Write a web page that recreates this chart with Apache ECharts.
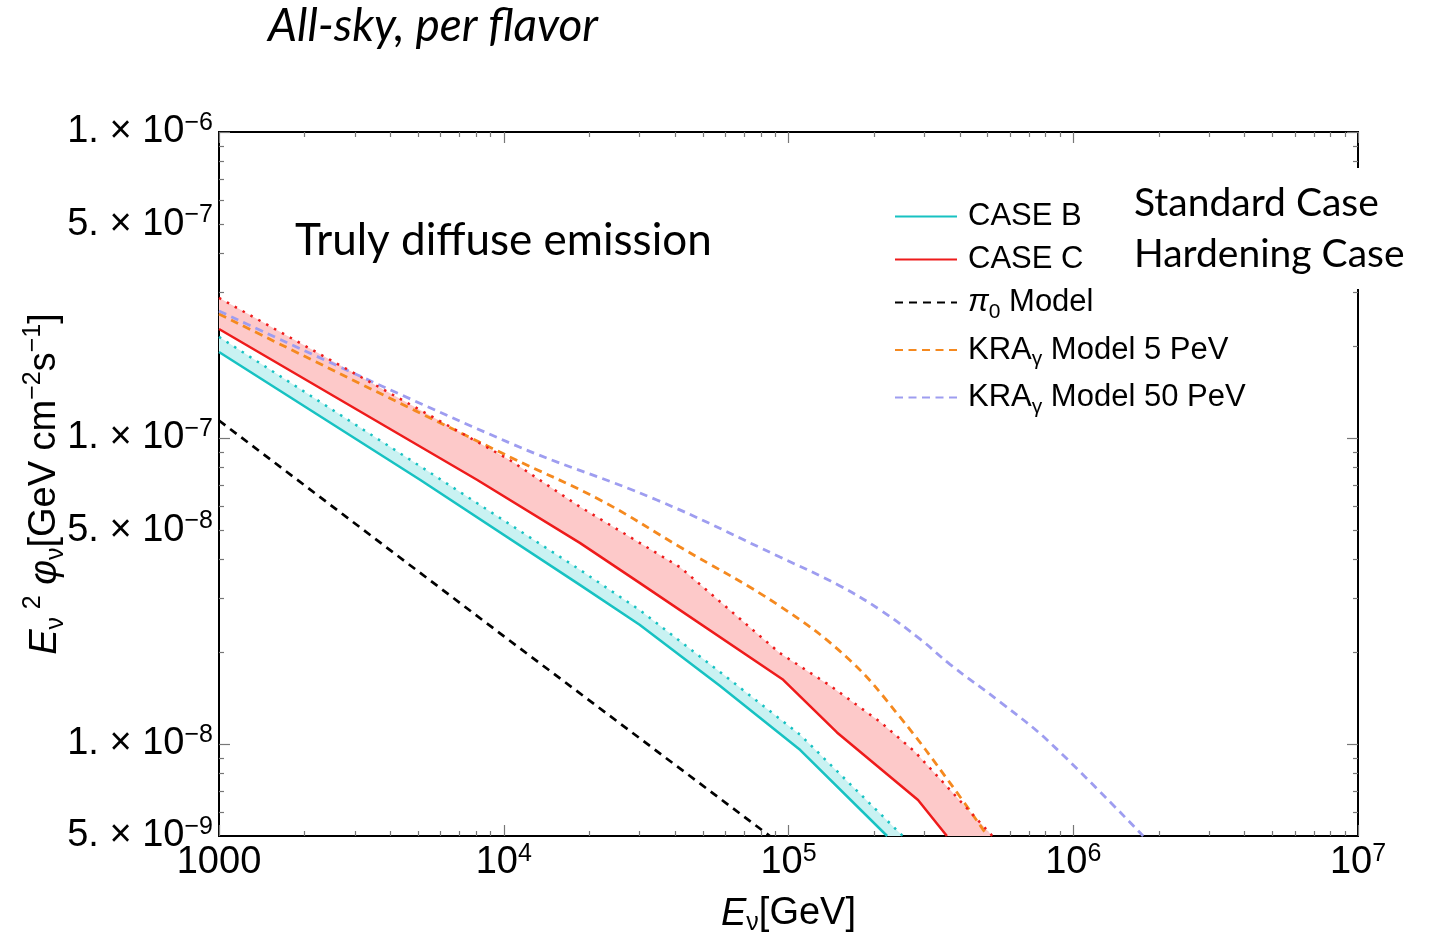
<!DOCTYPE html>
<html>
<head>
<meta charset="utf-8">
<script src="https://cdn.jsdelivr.net/npm/echarts@6/dist/echarts.min.js"></script>
<style>
    html, body { margin: 0; padding: 0; background: #fff; }
    #chart { width: 1433px; height: 935px; }
</style>
</head>
<body>
<div id="chart"></div>
<script>
    // E [GeV] , E^2 phi [GeV cm^-2 s^-1]
    const caseBLower = [[1000, 1.91e-7], [5080, 7.3e-8], [18500, 3.31e-8], [30000, 2.45e-8], [57400, 1.55e-8], [110000, 9.55e-9], [222000, 5.0e-9]];
    const caseBUpper = [[1000, 2.14e-7], [5080, 8.09e-8], [18500, 3.71e-8], [30000, 2.74e-8], [57400, 1.72e-8], [110000, 1.07e-8], [252000, 5.0e-9]];
    const caseCLower = [[1000, 2.27e-7], [8050, 7.3e-8], [18500, 4.54e-8], [30000, 3.36e-8], [95800, 1.62e-8], [148000, 1.09e-8], [285000, 6.56e-9], [360000, 5.0e-9]];
    const caseCUpper = [[1000, 2.87e-7], [10500, 8.47e-8], [18500, 5.96e-8], [41600, 3.78e-8], [68000, 2.55e-8], [93300, 1.98e-8], [140000, 1.55e-8], [210000, 1.18e-8], [278000, 9.42e-9], [369000, 7.08e-9], [520000, 5.0e-9]];
    const pi0Model = [[1000, 1.14e-7], [10000, 2.25e-8], [86000, 5.0e-9]];
    const kra5PeV = [[1000, 2.54e-7], [10500, 8.67e-8], [21800, 6.27e-8], [41600, 4.40e-8], [93300, 2.82e-8], [164000, 1.88e-8], [247000, 1.22e-8], [369000, 7.46e-9], [500000, 5.0e-9]];
    const kra50PeV = [[1000, 2.60e-7], [10500, 9.63e-8], [34500, 6.27e-8], [93300, 4.08e-8], [150000, 3.30e-8], [210000, 2.74e-8], [290000, 2.20e-8], [369000, 1.82e-8], [560000, 1.36e-8], [828000, 1.01e-8], [1760000, 5.0e-9]];

    // ticks
    const xMajorTicks = [1e3, 1e4, 1e5, 1e6, 1e7];
    const xMinorTicks = [2e3, 3e3, 4e3, 5e3, 6e3, 7e3, 8e3, 9e3, 2e4, 3e4, 4e4, 5e4, 6e4, 7e4, 8e4, 9e4,
        2e5, 3e5, 4e5, 5e5, 6e5, 7e5, 8e5, 9e5, 2e6, 3e6, 4e6, 5e6, 6e6, 7e6, 8e6, 9e6];
    const yLabelTicks = [5e-9, 1e-8, 5e-8, 1e-7, 5e-7, 1e-6];
    const yMajorTicks = [1e-8, 1e-7, 1e-6];
    const yMinorTicks = [6e-9, 7e-9, 8e-9, 9e-9, 2e-8, 3e-8, 4e-8, 5e-8, 6e-8, 7e-8, 8e-8, 9e-8,
        2e-7, 3e-7, 4e-7, 5e-7, 6e-7, 7e-7, 8e-7, 9e-7];

    const lg = v => Math.log10(v);
    const toLog = arr => arr.map(p => [lg(p[0]), lg(p[1])]);

    const X_MIN = lg(1e3), X_MAX = lg(1e7);
    const Y_MIN = lg(5e-9), Y_MAX = lg(1e-6);

    const ARIAL = 'Liberation Sans, Arial, sans-serif';
    const CALIBRI = 'Lato, Open Sans, sans-serif';
    const TICK_COLOR = '#777';

    const cyan = '#17c2c2', red = '#ee1b1b', orange = '#f5891f', purple = '#9e9df0';

    const labelRich = {
        b: { fontFamily: ARIAL, fontSize: 38, color: '#000', lineHeight: 42 },
        s: { fontFamily: ARIAL, fontSize: 25, color: '#000', lineHeight: 22, verticalAlign: 'top' }
    };

    function yLabel(v) {
        const e = Math.floor(v + 1e-9);
        const m = Math.round(Math.pow(10, v - e));
        return '{b|' + m + '. × 10}{s|−' + (-e) + '}';
    }
    function xLabel(v) {
        const e = Math.round(v);
        if (e === 3) return '{b|1000}';
        return '{b|10}{s|' + e + '}';
    }

    function xAxisOf(position, ticks, len, showLabel, extra) {
        return Object.assign({
            type: 'value', position: position, min: X_MIN, max: X_MAX,
            axisLine: { show: true, onZero: false, lineStyle: { color: '#000', width: 2 } },
            axisTick: { show: true, inside: true, length: len, customValues: ticks.map(lg), lineStyle: { color: TICK_COLOR, width: 1.2 } },
            axisLabel: showLabel ? { show: true, customValues: xMajorTicks.map(lg), formatter: xLabel, margin: 6, rich: labelRich } : { show: false },
            splitLine: { show: false }
        }, extra || {});
    }
    function yAxisOf(position, ticks, len, showLabel, extra) {
        return Object.assign({
            type: 'value', position: position, min: Y_MIN, max: Y_MAX,
            axisLine: { show: true, onZero: false, lineStyle: { color: '#000', width: 2 } },
            axisTick: { show: true, inside: true, length: len, customValues: ticks.map(lg), lineStyle: { color: TICK_COLOR, width: 1.2 } },
            axisLabel: showLabel ? { show: true, customValues: yLabelTicks.map(lg), formatter: yLabel, margin: 6, rich: labelRich } : { show: false },
            splitLine: { show: false }
        }, extra || {});
    }

    function lineSeries(name, data, color, dash, z, smooth, width) {
        return {
            name: name, type: 'line', data: toLog(data), symbol: 'none', clip: true, z: z || 3,
            smooth: smooth || false,
            lineStyle: { color: color, width: width || 2.5, type: dash || 'solid', cap: 'butt' },
            itemStyle: { color: color },
            emphasis: { disabled: true }
        };
    }

    function bandSeries(lower, upper, fill) {
        const poly = toLog(lower.concat(upper.slice().reverse()));
        return {
            type: 'custom', coordinateSystem: 'cartesian2d', clip: true, silent: true, z: 1,
            data: [[4, -7]],
            renderItem: (params, api) => ({
                type: 'polygon',
                shape: { points: poly.map(p => api.coord(p)) },
                style: { fill: fill }
            })
        };
    }

    const chart = echarts.init(document.getElementById('chart'));

    chart.setOption({
        animation: false,
        backgroundColor: '#fff',
        grid: { left: 219, right: 75, top: 132, bottom: 99, containLabel: false, outerBoundsMode: 'none' },
        xAxis: [
            xAxisOf('bottom', xMajorTicks, 11, true, {
                name: '{i|E}{sub|ν}{n|[GeV]}', nameLocation: 'middle', nameGap: 56,
                nameTextStyle: {
                    rich: {
                        i: { fontFamily: ARIAL, fontSize: 38, fontStyle: 'italic', color: '#000', lineHeight: 44 },
                        sub: { fontFamily: ARIAL, fontSize: 25, color: '#000', lineHeight: 22, verticalAlign: 'bottom' },
                        n: { fontFamily: ARIAL, fontSize: 38, color: '#000', lineHeight: 44 }
                    }
                }
            }),
            xAxisOf('bottom', xMinorTicks, 5, false),
            xAxisOf('top', xMajorTicks, 11, false),
            xAxisOf('top', xMinorTicks, 5, false)
        ],
        yAxis: [
            yAxisOf('left', yMajorTicks, 11, true, {
                name: '{i|E}{sub|ν}{n|\u2009}{sup|2}{n| }{i|φ}{sub|ν}{n|[GeV cm}{sup|−2}{n|s}{sup|−1}{n|]}',
                nameLocation: 'middle', nameRotate: 90, nameGap: 150, nameMoveOverlap: false,
                nameTextStyle: {
                    rich: {
                        i: { fontFamily: ARIAL, fontSize: 38, fontStyle: 'italic', color: '#000', lineHeight: 48 },
                        sub: { fontFamily: ARIAL, fontSize: 25, color: '#000', lineHeight: 22, verticalAlign: 'bottom' },
                        sup: { fontFamily: ARIAL, fontSize: 25, color: '#000', lineHeight: 22, verticalAlign: 'top' },
                        n: { fontFamily: ARIAL, fontSize: 38, color: '#000', lineHeight: 48 }
                    }
                }
            }),
            yAxisOf('left', yMinorTicks, 5, false),
            yAxisOf('right', yMajorTicks, 11, false),
            yAxisOf('right', yMinorTicks, 5, false)
        ],
        legend: {
            data: ['CASE B', 'CASE C', 'pi0', 'kra5', 'kra50'],
            orient: 'vertical', left: 889, top: 196,
            itemWidth: 62, itemHeight: 14, itemGap: 12,
            selectedMode: false,
            itemStyle: { opacity: 0 },
            formatter: name => ({
                'CASE B': '{t|CASE B}',
                'CASE C': '{t|CASE C}',
                'pi0': '{it|π}{sub|0}{t| Model}',
                'kra5': '{t|KRA}{sub|γ}{t| Model 5 PeV}',
                'kra50': '{t|KRA}{sub|γ}{t| Model 50 PeV}'
            })[name],
            textStyle: {
                padding: [0, 0, 0, 6],
                rich: {
                    t: { fontFamily: ARIAL, fontSize: 31, color: '#000', lineHeight: 40 },
                    it: { fontFamily: ARIAL, fontSize: 31, fontStyle: 'italic', color: '#000', lineHeight: 40 },
                    sub: { fontFamily: ARIAL, fontSize: 21, color: '#000', lineHeight: 20, verticalAlign: 'bottom' }
                }
            }
        },
        series: [
            bandSeries(caseCLower, caseCUpper, '#fdc9c9'),
            bandSeries(caseBLower, caseBUpper, '#c9f2f2'),
            lineSeries('CASE C upper', caseCUpper, red, [2.5, 6.5], 4),
            lineSeries('CASE B upper', caseBUpper, cyan, [2.5, 6.5], 4),
            lineSeries('pi0', pi0Model, '#000', [8, 6], 3, false, 2.7),
            lineSeries('kra5', kra5PeV, orange, [8, 5.5], 3, 0.4, 2.8),
            lineSeries('kra50', kra50PeV, purple, [8, 5.5], 3, 0.4, 2.8),
            lineSeries('CASE B', caseBLower, cyan, 'solid', 5),
            lineSeries('CASE C', caseCLower, red, 'solid', 5)
        ],
        graphic: [
            {
                type: 'text', left: 268, top: 3, z: 100,
                style: { text: 'All-sky, per flavor', font: 'italic 46px ' + CALIBRI, fill: '#000' }
            },
            {
                type: 'text', left: 295, top: 219, z: 100,
                style: { text: 'Truly diffuse emission', font: '44px ' + CALIBRI, fill: '#000' }
            },
            {
                type: 'rect', z: 99, shape: { x: 1120, y: 168, width: 300, height: 121 },
                style: { fill: '#fff' }
            },
            {
                type: 'text', left: 1134, top: 184, z: 100,
                style: { text: 'Standard Case', font: '39px ' + CALIBRI, fill: '#000' }
            },
            {
                type: 'text', left: 1134, top: 235, z: 100,
                style: { text: 'Hardening Case', font: '39px ' + CALIBRI, fill: '#000' }
            }
        ]
    });
</script>
</body>
</html>
